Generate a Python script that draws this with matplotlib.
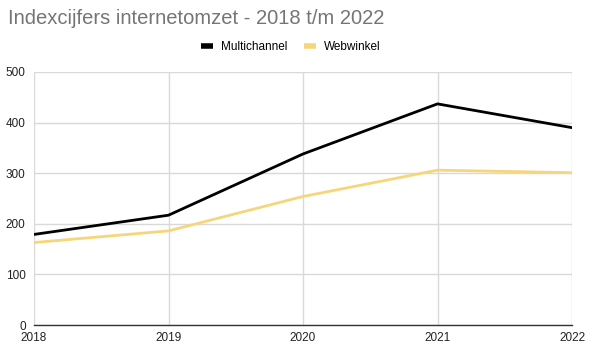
import matplotlib
matplotlib.use("Agg")
import matplotlib.pyplot as plt
from matplotlib.lines import Line2D

years = [2018, 2019, 2020, 2021, 2022]
multichannel = [179, 217, 338, 437, 390]
webwinkel = [163, 186, 254, 306, 301]
yticks = [0, 100, 200, 300, 400, 500]

plt.rcParams['font.family'] = ['Liberation Sans', 'DejaVu Sans']

fig = plt.figure(figsize=(6.02, 3.57), dpi=100)
ax = fig.add_axes([34/602, 1-325/357, (572-34)/602, (325-72)/357])

grid_c = '#d9d9d9'
ax.plot(years, multichannel, color='#000000', lw=2, label='Multichannel', zorder=3, solid_joinstyle='round')
ax.plot(years, webwinkel, color='#f6d67a', lw=2, label='Webwinkel', zorder=3, solid_joinstyle='round')

ax.set_xlim(2018, 2022)
ax.set_ylim(0, 500)
ax.set_xticks(years)
ax.set_yticks(yticks)
ax.grid(True, color=grid_c, lw=1)
ax.set_axisbelow(True)
for s in ['top', 'right', 'left']:
    ax.spines[s].set_visible(False)
ax.spines['bottom'].set_color('#333333')
ax.spines['bottom'].set_linewidth(1)
ax.tick_params(length=0, labelsize=8.5, colors='#222222')
ax.tick_params(axis='x', pad=5)
ax.tick_params(axis='y', pad=6)

fig.text(8/602, 1-18/357, 'Indexcijfers internetomzet - 2018 t/m 2022', fontsize=14.5,
         color='#757575', va='center', ha='left')

handles = [Line2D([0], [0], color='#000000', lw=4, solid_capstyle='butt'),
           Line2D([0], [0], color='#f6d67a', lw=4, solid_capstyle='butt')]
fig.legend(handles, ['Multichannel', 'Webwinkel'], loc='center', bbox_to_anchor=(291/602, 1-47/357),
           ncol=2, frameon=False, fontsize=8.5, handlelength=1.0, handletextpad=0.7, columnspacing=1.4)

fig.savefig('out.png', dpi=100)
